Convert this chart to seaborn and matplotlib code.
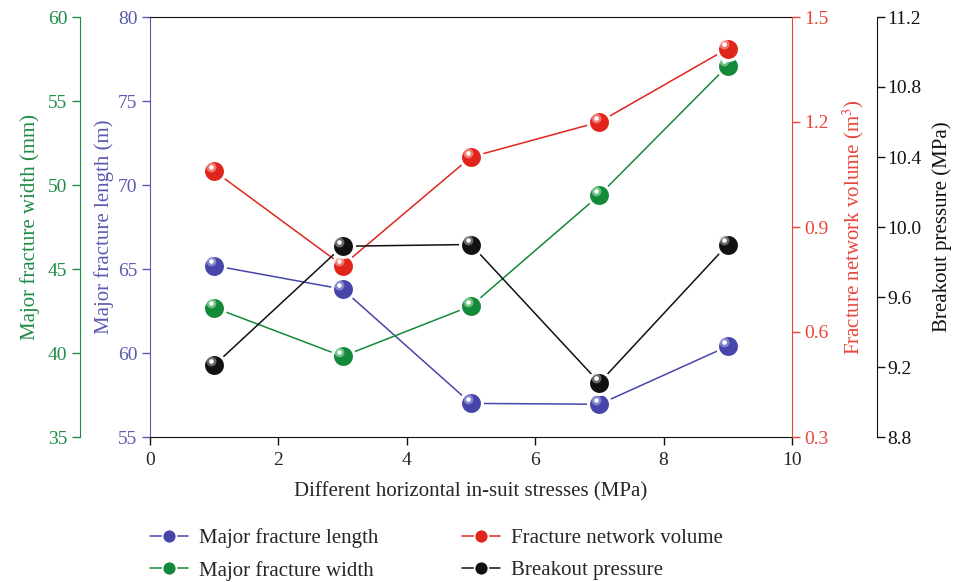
"""
Fracture parameters vs horizontal in-situ stress difference
four series, four y axes
"""

import numpy as np
import pandas as pd
import matplotlib
matplotlib.use('Agg')
import matplotlib.pyplot as plt
import matplotlib.transforms as mtransforms
from matplotlib.lines import Line2D
import seaborn as sns

# ── data ──────────────────────────────────────────────────────────────────────
stress = [1, 3, 5, 7, 9]
frac_length = [65.2, 63.8, 57.0, 56.95, 60.4]      # m
frac_width = [42.7, 39.8, 42.8, 49.4, 57.1]        # mm
net_volume = [1.06, 0.79, 1.10, 1.20, 1.41]        # m^3
breakout = [9.21, 9.89, 9.90, 9.11, 9.90]          # MPa

x_ticks = [0, 2, 4, 6, 8, 10]
length_ticks = [55, 60, 65, 70, 75, 80]
width_ticks = [35, 40, 45, 50, 55, 60]
volume_ticks = [0.3, 0.6, 0.9, 1.2, 1.5]
breakout_ticks = [8.8, 9.2, 9.6, 10.0, 10.4, 10.8, 11.2]

# ── style ─────────────────────────────────────────────────────────────────────
sns.set_style('ticks')
plt.rcParams['font.family'] = ['Liberation Serif', 'DejaVu Serif']
plt.rcParams['mathtext.fontset'] = 'stix'

BLUE, BLUE_AX = '#4646aa', '#5a5ab4'
GREEN, GREEN_AX = '#13893a', '#1f8c45'
RED, RED_AX = '#e0261c', '#e8463c'
BLACK = '#111111'

fig = plt.figure(figsize=(9.6, 5.82), dpi=100)
ax = fig.add_axes([150 / 960, 1 - 437 / 582, 642 / 960, 420 / 582])
ax_w = ax.twinx()
ax_v = ax.twinx()
ax_p = ax.twinx()


def sphere(axis, xs, ys, color, light):
    """Line broken around glossy ball markers."""
    df = pd.DataFrame({'x': xs, 'y': ys})
    sns.lineplot(data=df, x='x', y='y', ax=axis, color=color, lw=1.1, zorder=2)
    sns.scatterplot(data=df, x='x', y='y', ax=axis, s=250, color=color,
                    edgecolor='white', linewidth=2.2, zorder=3)
    off = mtransforms.ScaledTranslation(-2.5 / 72, 3.2 / 72, fig.dpi_scale_trans)
    axis.scatter(xs, ys, s=50, color=light, alpha=0.55, lw=0,
                 transform=axis.transData + off, zorder=4)
    axis.scatter(xs, ys, s=11, color='white', lw=0,
                 transform=axis.transData + off, zorder=5)
    axis.set_xlabel('')
    axis.set_ylabel('')


sphere(ax, stress, frac_length, BLUE, '#b8b8ee')
sphere(ax_w, stress, frac_width, GREEN, '#b8eec0')
sphere(ax_v, stress, net_volume, RED, '#ffc0b8')
sphere(ax_p, stress, breakout, BLACK, '#b0b0b0')

# ── axes ──────────────────────────────────────────────────────────────────────
FS = 14      # tick labels
LS = 15      # axis labels
TK = dict(labelsize=FS, length=6, width=1, pad=3)

ax.set_xlim(0, 10)
ax.set_xticks(x_ticks)
ax.set_ylim(55, 80)
ax.set_yticks(length_ticks)
ax.set_xlabel('Different horizontal in-suit stresses (MPa)', fontsize=LS, labelpad=9)
ax.set_ylabel('Major fracture length (m)', fontsize=LS, color=BLUE_AX, labelpad=3)
ax.tick_params(axis='x', color=BLACK, labelsize=FS, length=6, width=1, pad=5)
ax.tick_params(axis='y', colors=BLUE_AX, **TK)
for s in ['top', 'bottom']:
    ax.spines[s].set_color(BLACK)
ax.spines['left'].set_color(BLUE_AX)
ax.spines['right'].set_visible(False)
ax.spines['top'].set_visible(True)

# green axis sits 70 px left of the plot
ax_w.set_ylim(35, 60)
ax_w.set_yticks(width_ticks)
ax_w.yaxis.set_label_position('left')
ax_w.yaxis.set_ticks_position('left')
ax_w.spines['left'].set_visible(True)
ax_w.spines['left'].set_position(('outward', 70 * 0.72))
ax_w.spines['left'].set_color(GREEN_AX)
for s in ['right', 'top', 'bottom']:
    ax_w.spines[s].set_visible(False)
ax_w.set_ylabel('Major fracture width (mm)', fontsize=LS, color=GREEN_AX, labelpad=6)
ax_w.tick_params(axis='y', colors=GREEN_AX, **TK)

ax_v.set_ylim(0.3, 1.5)
ax_v.set_yticks(volume_ticks)
ax_v.yaxis.set_major_formatter(matplotlib.ticker.FormatStrFormatter('%.1f'))
ax_v.spines['right'].set_color(RED_AX)
for s in ['left', 'top', 'bottom']:
    ax_v.spines[s].set_visible(False)
ax_v.set_ylabel('Fracture network volume (m$^3$)', fontsize=LS, color=RED_AX, labelpad=8)
ax_v.tick_params(axis='y', colors=RED_AX, **TK)

# black axis sits 85 px right of the plot
ax_p.set_ylim(8.8, 11.2)
ax_p.set_yticks(breakout_ticks)
ax_p.yaxis.set_major_formatter(matplotlib.ticker.FormatStrFormatter('%.1f'))
ax_p.spines['right'].set_position(('outward', 85 * 0.72))
ax_p.spines['right'].set_color(BLACK)
for s in ['left', 'top', 'bottom']:
    ax_p.spines[s].set_visible(False)
ax_p.set_ylabel('Breakout pressure (MPa)', fontsize=LS, color=BLACK, labelpad=8)
ax_p.tick_params(axis='y', colors=BLACK, labelsize=FS, length=6, width=1, pad=1.5)

# ── legend ────────────────────────────────────────────────────────────────────
labels = ['Major fracture length', 'Major fracture width',
          'Fracture network volume', 'Breakout pressure']
colors = [BLUE, GREEN, RED, BLACK]
handles = [Line2D([0], [0], color=c, lw=1.1, marker='o', markersize=10,
                  markeredgecolor='white', markeredgewidth=1.2) for c in colors]
fig.legend(handles, labels, ncol=2, loc='upper left',
           bbox_to_anchor=(142 / 960, 1 - 520 / 582), frameon=False,
           fontsize=15, handlelength=1.8, handletextpad=0.55,
           labelspacing=0.6, columnspacing=4.0, borderaxespad=0)

plt.savefig('out.png', dpi=100)
plt.close()
